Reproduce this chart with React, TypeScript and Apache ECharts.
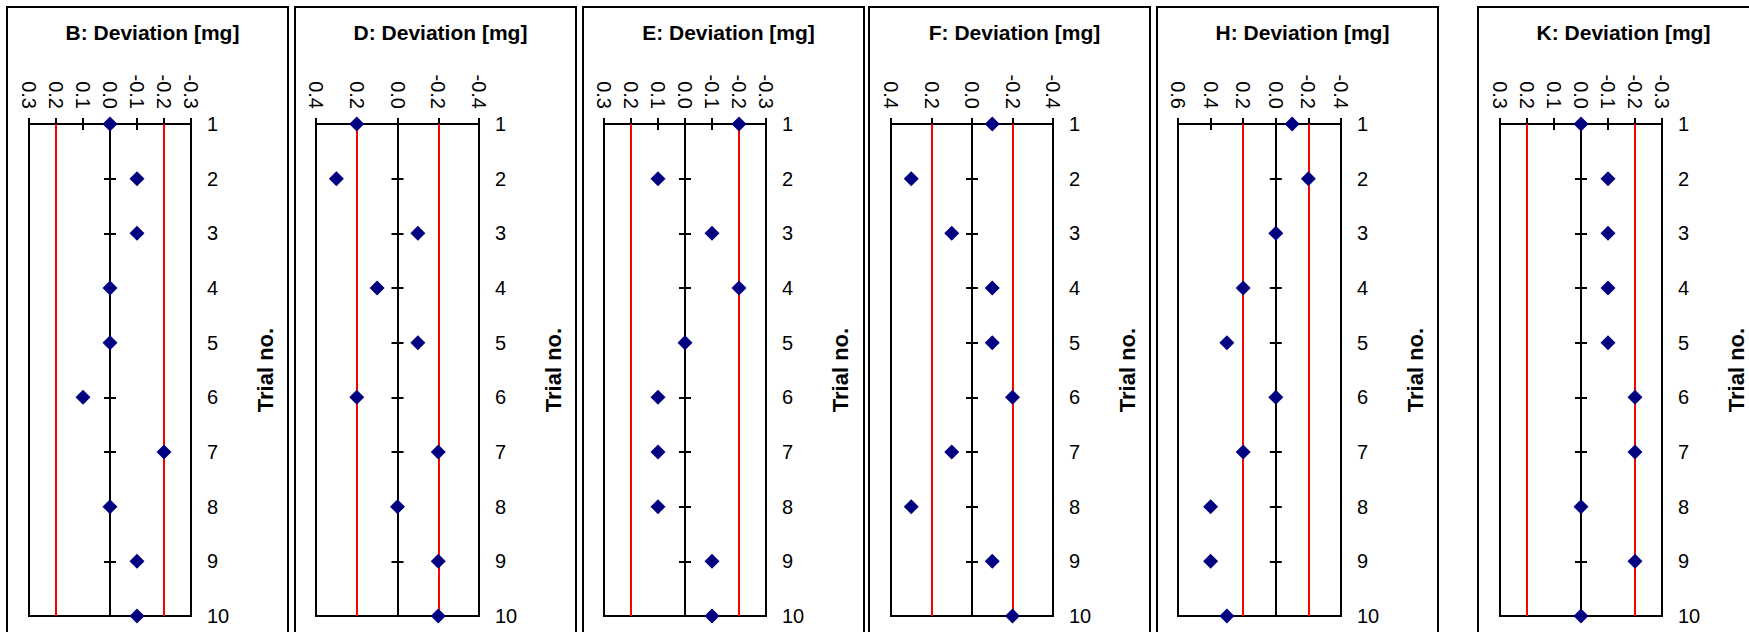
import React, { useEffect, useRef } from "react";
import * as echarts from "echarts";

// ---- data ----
const trials = ["1", "2", "3", "4", "5", "6", "7", "8", "9", "10"];
const panelNames = ["B", "D", "E", "F", "H", "K"];
const devB = [0, -0.1, -0.1, 0, 0, 0.1, -0.2, 0, -0.1, -0.1];
const devD = [0.2, 0.3, -0.1, 0.1, -0.1, 0.2, -0.2, 0, -0.2, -0.2];
const devE = [-0.2, 0.1, -0.1, -0.2, 0, 0.1, 0.1, 0.1, -0.1, -0.1];
const devF = [-0.1, 0.3, 0.1, -0.1, -0.1, -0.2, 0.1, 0.3, -0.1, -0.2];
const devH = [-0.1, -0.2, 0, 0.2, 0.3, 0, 0.2, 0.4, 0.4, 0.3];
const devK = [0, -0.1, -0.1, -0.1, -0.1, -0.2, -0.2, 0, -0.2, 0];
const axisMax = [0.3, 0.4, 0.3, 0.4, 0.6, 0.3];
const axisMin = [-0.3, -0.4, -0.3, -0.4, -0.4, -0.3];
const axisStep = [0.1, 0.2, 0.1, 0.2, 0.2, 0.1];
const limitLines = [0.2, -0.2];
const allDev = [devB, devD, devE, devF, devH, devK];

// ---- layout ----
const gridLeft = [29, 316, 604, 891, 1178, 1500];
const gridWidth = [162, 163, 162, 162, 163, 162];
const frameLeft = [7, 295, 583, 869, 1157, 1478];
const frameWidth = 281;
const gridTop = 124;
const gridHeight = 492;
const FONT = "'Liberation Sans', Arial, sans-serif";

const fmt = (v: number) => (Math.abs(v) < 1e-9 ? "0.0" : v.toFixed(1));

export default function App() {
  const ref = useRef<HTMLDivElement>(null);
  useEffect(() => {
    if (!ref.current) return;
    const chart = echarts.init(ref.current, null, { renderer: "svg" });
    const grids: any[] = [];
    const xAxes: any[] = [];
    const yAxes: any[] = [];
    const series: any[] = [];
    const titles: any[] = [];
    const graphics: any[] = [];

    panelNames.forEach((name, p) => {
      grids.push({
        left: gridLeft[p],
        top: gridTop,
        width: gridWidth[p],
        height: gridHeight,
        show: true,
        borderColor: "#000",
        borderWidth: 2,
        backgroundColor: "transparent",
      });
      const xBase = {
        type: "value",
        gridIndex: p,
        position: "top",
        min: axisMin[p],
        max: axisMax[p],
        interval: axisStep[p],
        inverse: true,
        splitLine: { show: false },
      };
      const xa = xAxes.length;
      xAxes.push({
        ...xBase,
        axisLine: { show: true, onZero: false, lineStyle: { color: "#000", width: 2 } },
        axisTick: { show: true, inside: false, length: 6, lineStyle: { color: "#000", width: 2 } },
        axisLabel: {
          show: true,
          rotate: 90,
          margin: 15,
          color: "#000",
          fontSize: 20,
          fontFamily: FONT,
          formatter: (v: number) => fmt(v),
        },
      });
      xAxes.push({
        ...xBase,
        axisLine: { show: false, onZero: false },
        axisTick: { show: true, inside: true, length: 6, lineStyle: { color: "#000", width: 2 } },
        axisLabel: { show: false },
      });
      const yBase = {
        type: "category",
        gridIndex: p,
        data: trials,
        inverse: true,
        boundaryGap: false,
        splitLine: { show: false },
      };
      const ya = yAxes.length;
      yAxes.push({
        ...yBase,
        position: "right",
        axisLine: { show: false, onZero: false },
        axisTick: { show: false },
        axisLabel: { show: true, margin: 16, color: "#000", fontSize: 20, fontFamily: FONT },
        name: "Trial no.",
        nameLocation: "middle",
        nameRotate: 90,
        nameGap: 63,
        nameTextStyle: { color: "#000", fontSize: 22, fontWeight: "bold", fontFamily: FONT },
      });
      yAxes.push({
        ...yBase,
        position: "left",
        axisLine: { show: true, onZero: true, onZeroAxisIndex: xa, lineStyle: { color: "#000", width: 2 } },
        axisTick: { show: true, inside: true, length: 6, lineStyle: { color: "#000", width: 2 } },
        axisLabel: { show: false },
      });
      yAxes.push({
        ...yBase,
        position: "left",
        axisLine: { show: false, onZero: true, onZeroAxisIndex: xa },
        axisTick: { show: true, inside: false, length: 6, lineStyle: { color: "#000", width: 2 } },
        axisLabel: { show: false },
      });
      series.push({
        type: "line",
        xAxisIndex: xa,
        yAxisIndex: ya,
        data: [],
        z: 1,
        markLine: {
          silent: true,
          symbol: "none",
          label: { show: false },
          lineStyle: { color: "#ff0000", width: 2, type: "solid" },
          data: limitLines.map((v) => ({ xAxis: v })),
        },
      });
      series.push({
        type: "scatter",
        name,
        xAxisIndex: xa,
        yAxisIndex: ya,
        symbol: "diamond",
        symbolSize: 15,
        clip: false,
        z: 5,
        itemStyle: { color: "#000080", opacity: 1 },
        data: allDev[p].map((v, i) => [v, i]),
      });
      titles.push({
        text: `${name}: Deviation [mg]`,
        left: frameLeft[p] + frameWidth / 2,
        textAlign: "center",
        top: 17,
        textStyle: { color: "#000", fontSize: 21, fontWeight: "bold", fontFamily: FONT },
      });
      graphics.push({
        type: "rect",
        shape: { x: frameLeft[p], y: 7, width: frameWidth, height: 640 },
        style: { stroke: "#000", lineWidth: 2, fill: "none" },
        silent: true,
      });
    });

    chart.setOption({
      animation: false,
      backgroundColor: "#fff",
      title: titles,
      grid: grids,
      xAxis: xAxes,
      yAxis: yAxes,
      series,
      graphic: graphics,
    });
    return () => chart.dispose();
  }, []);
  return (
    <div
      ref={ref}
      style={{ position: "absolute", left: 0, top: 0, width: 1749, height: 632 }}
    />
  );
}
